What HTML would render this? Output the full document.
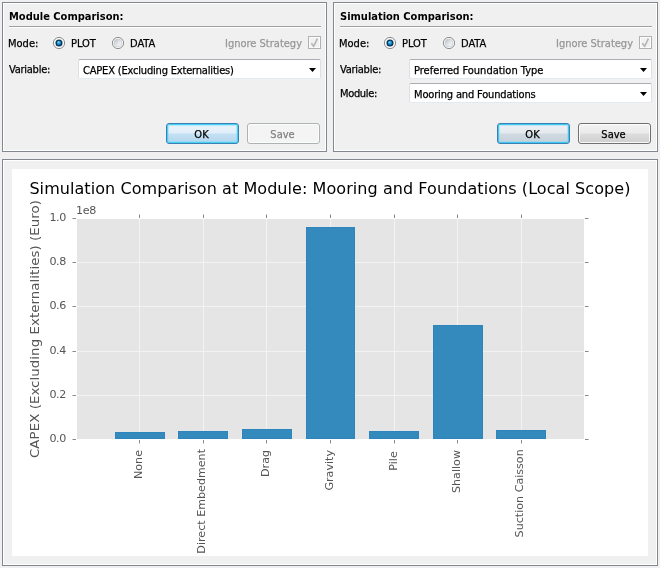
<!DOCTYPE html>
<html><head><meta charset="utf-8"><title>Comparison</title>
<style>
html,body{margin:0;padding:0;}
body{width:660px;height:568px;background:#f0f0f0;position:relative;overflow:hidden;
 font-family:"DejaVu Sans Condensed","Liberation Sans",sans-serif;font-size:11px;color:#000;}
.abs{position:absolute;}
.frame{position:absolute;box-sizing:border-box;border:1px solid #828790;}
.frame:before{content:"";position:absolute;left:0;top:0;right:0;bottom:0;border:1px solid #fff;}
.t{position:absolute;white-space:nowrap;line-height:13px;height:13px;-webkit-text-stroke:0.25px currentColor;}
.b{font-weight:bold;-webkit-text-stroke:0;}
.dis{color:#979797;}
.hline{position:absolute;height:1px;background:#a0a0a0;}
.hline:after{content:"";position:absolute;left:0;right:0;top:1px;height:1px;background:#fff;}
.combo{position:absolute;box-sizing:border-box;width:243px;height:20px;background:#fff;
 border:1px solid #e2e3ea;border-top-color:#abadb3;border-left-color:#dbdfe6;border-right-color:#dbdfe6;border-bottom-color:#e3e9ef;border-radius:2px;}
.combo .t{left:4px;top:4px;}
.combo svg{position:absolute;right:4px;top:8px;}
.btn{position:absolute;box-sizing:border-box;width:73px;height:21px;border-radius:3px;text-align:center;line-height:19px;}
.btn span{position:relative;left:-1px;top:1px;-webkit-text-stroke:0.25px currentColor;}
.btn.def{border:1px solid #3c7fb1;background:linear-gradient(#eaf3fb 0,#e0eef9 48%,#c4e0f3 52%,#b4d6ee 100%);box-shadow:inset 0 0 0 1px #48d0f6, inset 0 0 0 2px rgba(120,220,250,.45);}
.btn.def2{border:1px solid #3c7fb1;background:linear-gradient(#edf1f5 0,#e4e9ee 48%,#d0dae2 52%,#c4d0da 100%);box-shadow:inset 0 0 0 1px #40c8f4, inset 0 0 0 2px rgba(120,215,245,.4);}
.btn.norm{border:1px solid #707070;background:linear-gradient(#f2f2f2 0,#ebebeb 48%,#dddddd 52%,#cfcfcf 100%);box-shadow:inset 0 0 0 1px rgba(255,255,255,.85);}
.btn.off{border:1px solid #adb2b5;background:#f4f4f4;color:#838383;box-shadow:inset 0 0 0 1px #fcfcfc;}
.cb{position:absolute;box-sizing:border-box;width:13px;height:13px;border:1px solid #b1b1b1;background:#f1f1f1;box-shadow:inset 0 0 0 1px #fbfbfb;}
</style></head><body>

<!-- top-left frame -->
<div class="frame" style="left:2px;top:2px;width:325px;height:150px;"></div>
<div class="t b" style="left:9px;top:10px;">Module Comparison:</div>
<div class="hline" style="left:9px;top:26px;width:312px;"></div>
<div class="t" style="left:8px;top:37px;">Mode:</div>
<svg class="abs" style="left:52px;top:36px" width="14" height="14" viewBox="0 0 14 14"><circle cx="7" cy="7" r="5.6" fill="#fcfcfc" stroke="#8a8b8c" stroke-width="1"/><circle cx="7" cy="7" r="3.55" fill="#0c3558"/><circle cx="7" cy="7" r="2.15" fill="url(#gdot)"/></svg>
<div class="t" style="left:71px;top:37px;">PLOT</div>
<svg class="abs" style="left:111px;top:36px" width="14" height="14" viewBox="0 0 14 14"><circle cx="7" cy="7" r="5.6" fill="#f9f9f9" stroke="#8e8f8f" stroke-width="1"/><circle cx="7" cy="7" r="3.9" fill="url(#guns)" stroke="#c4cad0" stroke-width="0.7"/></svg>
<div class="t" style="left:130px;top:37px;">DATA</div>
<div class="t dis" style="left:225px;top:37px;">Ignore Strategy</div>
<div class="cb" style="left:308px;top:36px;"><svg width="11" height="11" viewBox="0 0 11 11" style="position:absolute;left:0;top:0"><path d="M2.4 6.2 L4.7 9.3 L8.4 1.6" fill="none" stroke="#b4b4b4" stroke-width="1.6"/></svg></div>
<div class="t" style="left:9px;top:63px;letter-spacing:-0.25px">Variable:</div>
<div class="combo" style="left:78px;top:59px;"><div class="t" style="letter-spacing:-0.18px">CAPEX (Excluding Externalities)</div><svg width="7" height="4" viewBox="0 0 7 4"><path d="M0 0H7L3.5 4Z" fill="#000"/></svg></div>
<div class="btn def" style="left:166px;top:123px;"><span>OK</span></div>
<div class="btn off" style="left:247px;top:123px;"><span>Save</span></div>

<!-- top-right frame -->
<div class="frame" style="left:333px;top:2px;width:325px;height:150px;"></div>
<div class="t b" style="left:340px;top:10px;">Simulation Comparison:</div>
<div class="hline" style="left:340px;top:26px;width:312px;"></div>
<div class="t" style="left:339px;top:37px;">Mode:</div>
<svg class="abs" style="left:383px;top:36px" width="14" height="14" viewBox="0 0 14 14"><circle cx="7" cy="7" r="5.6" fill="#fcfcfc" stroke="#8a8b8c" stroke-width="1"/><circle cx="7" cy="7" r="3.55" fill="#0c3558"/><circle cx="7" cy="7" r="2.15" fill="url(#gdot)"/></svg>
<div class="t" style="left:402px;top:37px;">PLOT</div>
<svg class="abs" style="left:442px;top:36px" width="14" height="14" viewBox="0 0 14 14"><circle cx="7" cy="7" r="5.6" fill="#f9f9f9" stroke="#8e8f8f" stroke-width="1"/><circle cx="7" cy="7" r="3.9" fill="url(#guns)" stroke="#c4cad0" stroke-width="0.7"/></svg>
<div class="t" style="left:461px;top:37px;">DATA</div>
<div class="t dis" style="left:556px;top:37px;">Ignore Strategy</div>
<div class="cb" style="left:639px;top:36px;"><svg width="11" height="11" viewBox="0 0 11 11" style="position:absolute;left:0;top:0"><path d="M2.4 6.2 L4.7 9.3 L8.4 1.6" fill="none" stroke="#b4b4b4" stroke-width="1.6"/></svg></div>
<div class="t" style="left:340px;top:63px;letter-spacing:-0.25px">Variable:</div>
<div class="combo" style="left:409px;top:59px;"><div class="t">Preferred Foundation Type</div><svg width="7" height="4" viewBox="0 0 7 4"><path d="M0 0H7L3.5 4Z" fill="#000"/></svg></div>
<div class="t" style="left:340px;top:87px;letter-spacing:-0.35px">Module:</div>
<div class="combo" style="left:409px;top:83px;"><div class="t" style="letter-spacing:-0.16px">Mooring and Foundations</div><svg width="7" height="4" viewBox="0 0 7 4"><path d="M0 0H7L3.5 4Z" fill="#000"/></svg></div>
<div class="btn def2" style="left:497px;top:123px;"><span>OK</span></div>
<div class="btn norm" style="left:578px;top:123px;"><span>Save</span></div>

<!-- bottom frame -->
<div class="frame" style="left:2px;top:159px;width:656px;height:407px;"></div>

<svg width="0" height="0" style="position:absolute">
<defs>
<radialGradient id="gdot" cx="0.38" cy="0.32" r="0.75"><stop offset="0" stop-color="#7fe0f5"/><stop offset="0.4" stop-color="#22a3e2"/><stop offset="0.8" stop-color="#1583c9"/><stop offset="1" stop-color="#0f5f9c"/></radialGradient>
<linearGradient id="guns" x1="0" y1="0" x2="1" y2="1"><stop offset="0" stop-color="#b4bdc7"/><stop offset="0.55" stop-color="#e6e8eb"/><stop offset="1" stop-color="#fbfbfb"/></linearGradient>


</defs></svg>

<!-- plot -->
<svg class="abs" style="left:12px;top:169px" width="636" height="387" viewBox="12 169 636 387" font-family="'DejaVu Sans',sans-serif">
<rect x="12" y="169" width="636" height="387" fill="#fff"/>
<g shape-rendering="crispEdges">
<rect x="77" y="219" width="507" height="220" fill="#e5e5e5"/>
<g stroke="#f3f3f3" stroke-width="1">
<path d="M139.5 219V439M203.5 219V439M266.5 219V439M330.5 219V439M394.5 219V439M457.5 219V439M521.5 219V439"/>
<path d="M77 395.5H584M77 351.5H584M77 306.5H584M77 262.5H584"/>
</g>
<g fill="#348abd" stroke="#2e85bc" stroke-width="1">
<rect x="115.5" y="432.5" width="49" height="6"/>
<rect x="178.5" y="431.5" width="49" height="7"/>
<rect x="242.5" y="429.5" width="49" height="9"/>
<rect x="306.5" y="227.5" width="48" height="211"/>
<rect x="369.5" y="431.5" width="49" height="7"/>
<rect x="433.5" y="325.5" width="49" height="113"/>
<rect x="496.5" y="430.5" width="49" height="8"/>
</g>
<g stroke="#8a8a8a" stroke-width="1">
<path d="M139.5 440v3M203.5 440v3M266.5 440v3M330.5 440v3M394.5 440v3M457.5 440v3M521.5 440v3M139.5 215v3M203.5 215v3M266.5 215v3M330.5 215v3M394.5 215v3M457.5 215v3M521.5 215v3M73 439.5h3M73 395.5h3M73 351.5h3M73 306.5h3M73 262.5h3M73 218.5h3M585 439.5h3M585 395.5h3M585 351.5h3M585 306.5h3M585 262.5h3M585 218.5h3"/>
<path stroke="#c2c2c2" d="M139.5 443v1M203.5 443v1M266.5 443v1M330.5 443v1M394.5 443v1M457.5 443v1M521.5 443v1M139.5 214v1M203.5 214v1M266.5 214v1M330.5 214v1M394.5 214v1M457.5 214v1M521.5 214v1M72 439.5h1M72 395.5h1M72 351.5h1M72 306.5h1M72 262.5h1M72 218.5h1M588 439.5h1M588 395.5h1M588 351.5h1M588 306.5h1M588 262.5h1M588 218.5h1"/>
</g>
</g>
<text x="29.4" y="194" font-size="16" textLength="601" lengthAdjust="spacing" fill="#000">Simulation Comparison at Module: Mooring and Foundations (Local Scope)</text>
<g font-size="11.11" fill="#555" text-anchor="end" letter-spacing="-0.35">
<text x="66.0" y="442.0">0.0</text>
<text x="66.0" y="398.0">0.2</text>
<text x="66.0" y="354.0">0.4</text>
<text x="66.0" y="309.0">0.6</text>
<text x="66.0" y="265.0">0.8</text>
<text x="66.0" y="221.0">1.0</text>
</g>
<text x="75.9" y="214" font-size="11.11" fill="#555" letter-spacing="-0.3">1e8</text>
<text transform="translate(38.8 458) rotate(-90) scale(1 0.95)" font-size="13.33" fill="#555" textLength="258" lengthAdjust="spacing">CAPEX (Excluding Externalities) (Euro)</text>
<g font-size="11.11" fill="#555" text-anchor="end">
<text transform="translate(142 450) rotate(-90)">None</text>
<text transform="translate(205 449) rotate(-90)">Direct Embedment</text>
<text transform="translate(269.4 450) rotate(-90)">Drag</text>
<text transform="translate(333 450) rotate(-90)">Gravity</text>
<text transform="translate(397.3 451.2) rotate(-90)">Pile</text>
<text transform="translate(460 450) rotate(-90)">Shallow</text>
<text transform="translate(523 449.3) rotate(-90)">Suction Caisson</text>
</g>
</svg>
</body></html>
